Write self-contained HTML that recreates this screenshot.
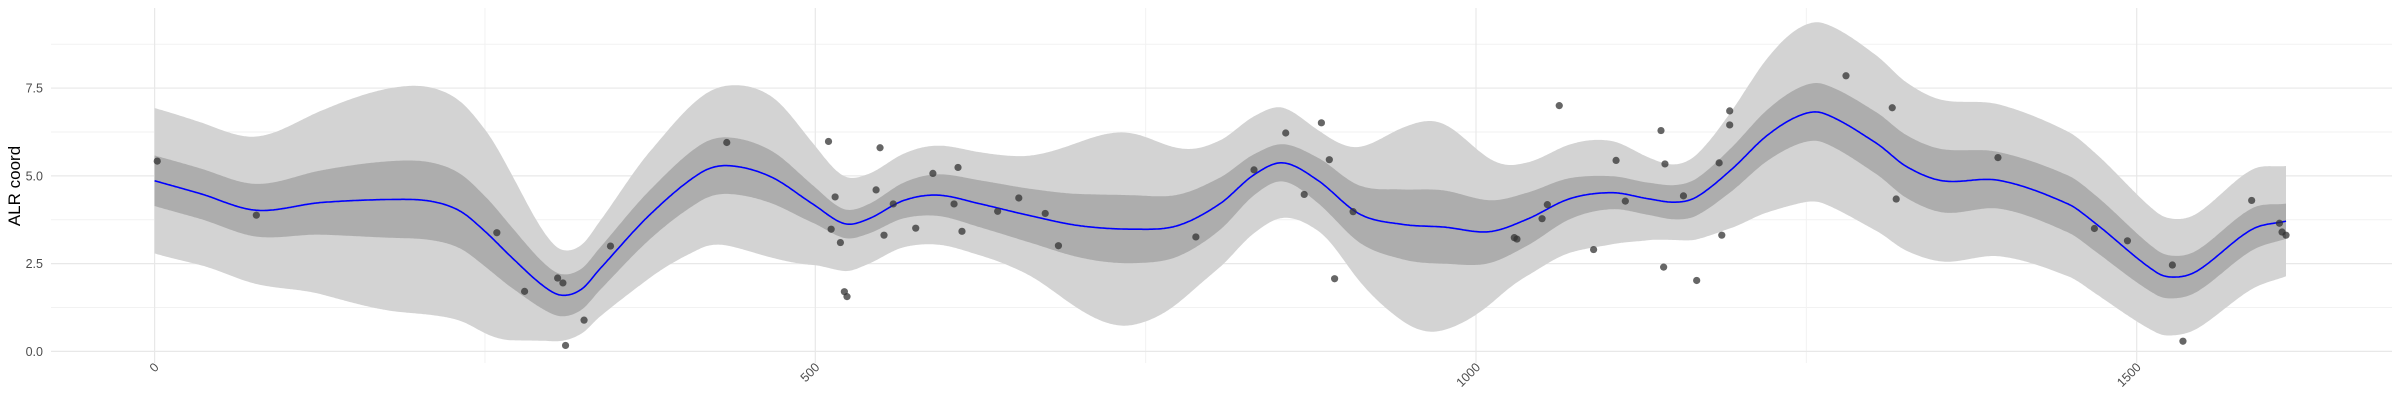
<!DOCTYPE html>
<html><head><meta charset="utf-8">
<style>
html,body{margin:0;padding:0;background:#fff;}
svg{display:block;font-family:"Liberation Sans",sans-serif;}
</style></head>
<body>
<svg id="chart" width="2400" height="400" viewBox="0 0 2400 400" xmlns="http://www.w3.org/2000/svg">
  <g id="grid"></g>
  <g id="bands"></g>
  <g id="line"></g>
  <g id="points"></g>
  <g id="axes"></g>
  <text x="0" y="0" transform="translate(20,186) rotate(-90)" text-anchor="middle" font-size="17" fill="#000">ALR coord</text>
</svg>
<script>
const xTicks = [0, 500, 1000, 1500];
const xTickLabels = ["0", "500", "1000", "1500"];
const xMinor = [250, 750, 1250];
const yTicks = [0, 2.5, 5, 7.5];
const yTickLabels = ["0.0", "2.5", "5.0", "7.5"];
const yMinor = [1.25, 3.75, 6.25, 8.75];

const meanX = [0,34,77,126,184,210,231,250,271,294,308,323,337,375,413,434,466,498,522,540,567,593,625,662,700,742,774,806,832,854,880,912,944,976,1010,1039,1071,1103,1130,1151,1167,1193,1220,1245,1263,1303,1326,1353,1396,1448,1468,1515,1531,1547,1587,1613];
const meanY = [4.86,4.5,4.02,4.24,4.33,4.27,4.0,3.42,2.65,1.87,1.6,1.77,2.35,3.9,5.08,5.29,4.98,4.2,3.64,3.77,4.3,4.45,4.2,3.87,3.58,3.48,3.58,4.2,5.03,5.37,4.88,3.91,3.62,3.54,3.41,3.77,4.35,4.52,4.35,4.25,4.4,5.17,6.14,6.72,6.78,5.93,5.26,4.86,4.87,4.2,3.67,2.25,2.12,2.32,3.47,3.71];

const bandX = [0,77,184,250,308,375,413,466,522,588,657,731,795,848,891,965,1029,1098,1156,1245,1353,1400,1468,1531,1587,1613];
const innerHalf = [0.72,0.75,1.1,1.0,0.6,0.7,0.8,0.75,0.41,0.58,0.75,0.97,0.8,0.53,0.7,1.05,0.8,0.48,0.5,0.8,0.9,0.8,0.8,0.6,0.6,0.5];
const outerHalf = [2.07,2.1,3.2,2.9,1.3,1.8,2.15,2.3,1.35,1.4,1.65,2.75,1.9,1.6,1.5,3.0,1.7,1.5,1.1,2.5,2.3,2.15,2.0,1.65,1.7,1.57];

const pointX = [2,77,259,280,305,309,311,325,345,433,510,515,512,519,522,524,549,546,559,552,576,589,605,608,611,638,654,674,684,788,832,856,870,883,889,893,907,1029,1031,1050,1054,1063,1089,1106,1113,1140,1142,1143,1157,1167,1184,1186,1192,1192,1280,1315,1318,1395,1468,1493,1527,1535,1587,1608,1610,1613];
const pointY = [5.42,3.88,3.38,1.71,2.09,1.95,0.17,0.89,3.0,5.95,5.98,4.4,3.48,3.1,1.7,1.56,5.8,4.6,4.2,3.31,3.51,5.07,4.2,5.24,3.42,3.99,4.37,3.93,3.01,3.26,5.17,6.22,4.47,6.51,5.46,2.07,3.98,3.24,3.2,3.78,4.18,7.0,2.9,5.44,4.28,6.29,2.4,5.34,4.43,2.02,5.37,3.31,6.45,6.85,7.85,6.94,4.34,5.52,3.5,3.15,2.46,0.29,4.3,3.65,3.4,3.31];

const NS = "http://www.w3.org/2000/svg";
const px = v => 154.6 + v * 1.3214;
const py = v => 351.4 - v * 35.11;
const PL = 51, PR = 2392, PT = 8, PB = 363;

function interp(xs, ys, x) {
  const n = xs.length;
  if (x <= xs[0]) return ys[0];
  if (x >= xs[n-1]) return ys[n-1];
  let i = 0;
  while (x > xs[i+1]) i++;
  const tan = k => {
    if (k === 0) return (ys[1]-ys[0])/(xs[1]-xs[0]);
    if (k === n-1) return (ys[n-1]-ys[n-2])/(xs[n-1]-xs[n-2]);
    return (ys[k+1]-ys[k-1])/(xs[k+1]-xs[k-1]);
  };
  const h = xs[i+1]-xs[i], t = (x-xs[i])/h;
  const t2 = t*t, t3 = t2*t;
  return (2*t3-3*t2+1)*ys[i] + (t3-2*t2+t)*h*tan(i) + (-2*t3+3*t2)*ys[i+1] + (t3-t2)*h*tan(i+1);
}
function mk(tag, attrs, parent) {
  const el = document.createElementNS(NS, tag);
  for (const k in attrs) el.setAttribute(k, attrs[k]);
  parent.appendChild(el);
  return el;
}

const grid = document.getElementById('grid');
yMinor.forEach(v => {
  const l = mk('line', {x1: PL, x2: PR, y1: py(v), y2: py(v), stroke: '#f2f2f2', 'stroke-width': 1}, grid);
  
  
});
xMinor.forEach(v => {
  const l = mk('line', {x1: px(v), x2: px(v), y1: PT, y2: PB, stroke: '#f2f2f2', 'stroke-width': 1}, grid);
  
  
});
yTicks.forEach(v => {
  const l = mk('line', {x1: PL, x2: PR, y1: py(v), y2: py(v), stroke: '#e8e8e8', 'stroke-width': 1.2}, grid);
  
  
});
xTicks.forEach(v => {
  const l = mk('line', {x1: px(v), x2: px(v), y1: PT, y2: PB, stroke: '#e8e8e8', 'stroke-width': 1.2}, grid);
  
  
});

const xStart = meanX[0], xEnd = meanX[meanX.length-1];
function bandPath(halfArr) {
  const up = [], lo = [];
  for (let x = xStart; x <= xEnd + 0.001; x += 1) {
    const m = interp(meanX, meanY, x), h = interp(bandX, halfArr, x);
    up.push(px(x).toFixed(1) + ',' + py(m + h).toFixed(1));
    lo.push(px(x).toFixed(1) + ',' + py(m - h).toFixed(1));
  }
  return 'M' + up.join('L') + 'L' + lo.reverse().join('L') + 'Z';
}
const bands = document.getElementById('bands');
const outer = mk('path', {d: bandPath(outerHalf), fill: '#d3d3d3'}, bands);


const inner = mk('path', {d: bandPath(innerHalf), fill: '#adadad'}, bands);



const pts = [];
for (let x = xStart; x <= xEnd + 0.001; x += 1) pts.push(px(x).toFixed(1) + ',' + py(interp(meanX, meanY, x)).toFixed(1));
const ln = mk('path', {d: 'M' + pts.join('L'), fill: 'none', stroke: '#0000ff', 'stroke-width': 1.6}, document.getElementById('line'));



const pg = document.getElementById('points');
pointX.forEach((x, i) => {
  const c = mk('circle', {cx: px(x), cy: py(pointY[i]), r: 3.6, fill: '#333333', 'fill-opacity': 0.75}, pg);
  
  
});

const axes = document.getElementById('axes');
yTicks.forEach((v, i) => {
  const t = mk('text', {x: 43, y: py(v) + 4.5, 'text-anchor': 'end', 'font-size': 12.5, fill: '#4d4d4d'}, axes);
  t.textContent = yTickLabels[i];
  
  
});
xTicks.forEach((v, i) => {
  const t = mk('text', {x: 0, y: 0, 'text-anchor': 'end', 'font-size': 12.5, fill: '#4d4d4d', transform: 'translate(' + (px(v) + 5) + ',368) rotate(-45)'}, axes);
  t.textContent = xTickLabels[i];
  
  
});
</script>
</body></html>
